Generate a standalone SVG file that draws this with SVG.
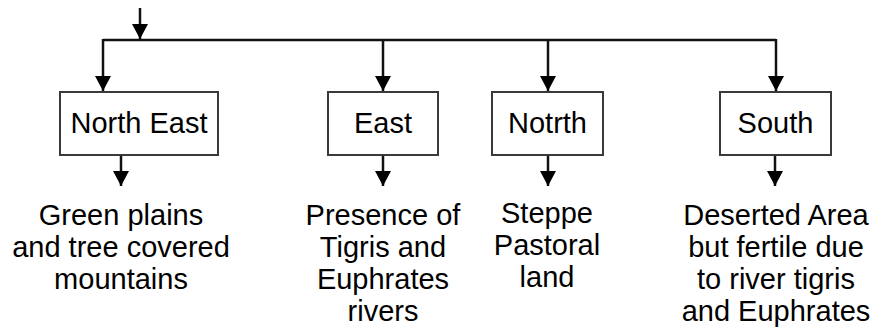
<svg xmlns="http://www.w3.org/2000/svg" width="875" height="330" viewBox="0 0 875 330">
<defs>
<marker id="ah" markerUnits="userSpaceOnUse" markerWidth="18" markerHeight="18" viewBox="0 0 18 18" refX="15" refY="9" orient="auto">
<path d="M0,1 L15,9 L0,17 Z" fill="#000"/>
</marker>
<style>
.c{fill:none;stroke:#111;stroke-width:2.5}
.b{fill:#fff;stroke:#3a3a3a;stroke-width:2}
.t{font-family:"Liberation Sans",Arial,sans-serif;font-size:29px;fill:#000;text-anchor:middle}
</style>
</defs>
<g id="connectors">
<line class="c" x1="140" y1="8" x2="140" y2="39" marker-end="url(#ah)"/>
<polyline class="c" points="103,40 776,40"/>
<line class="c" x1="103" y1="39" x2="103" y2="91" marker-end="url(#ah)"/>
<line class="c" x1="383" y1="40" x2="383" y2="91" marker-end="url(#ah)"/>
<line class="c" x1="548" y1="40" x2="548" y2="91" marker-end="url(#ah)"/>
<line class="c" x1="776" y1="39" x2="776" y2="91" marker-end="url(#ah)"/>
<line class="c" x1="121" y1="155" x2="121" y2="186" marker-end="url(#ah)"/>
<line class="c" x1="383" y1="155" x2="383" y2="186" marker-end="url(#ah)"/>
<line class="c" x1="548" y1="155" x2="548" y2="186" marker-end="url(#ah)"/>
<line class="c" x1="775" y1="155" x2="775" y2="186" marker-end="url(#ah)"/>
</g>
<g id="north-east">
<rect class="b" x="60" y="92" width="158" height="63"/>
<text class="t" x="139" y="133">North East</text>
</g>
<g id="east">
<rect class="b" x="328" y="92" width="110" height="63"/>
<text class="t" x="383" y="133">East</text>
</g>
<g id="notrth">
<rect class="b" x="492" y="92" width="111" height="63"/>
<text class="t" x="547.5" y="133">Notrth</text>
</g>
<g id="south">
<rect class="b" x="720" y="92" width="111" height="63"/>
<text class="t" x="775.5" y="133">South</text>
</g>
<g id="ne-desc">
<text class="t" x="121" y="225">Green plains</text>
<text class="t" x="121" y="257">and tree covered</text>
<text class="t" x="121" y="289">mountains</text>
</g>
<g id="east-desc">
<text class="t" x="383" y="225">Presence of</text>
<text class="t" x="383" y="257">Tigris and</text>
<text class="t" x="383" y="289">Euphrates</text>
<text class="t" x="383" y="321">rivers</text>
</g>
<g id="notrth-desc">
<text class="t" x="547" y="223">Steppe</text>
<text class="t" x="547" y="255">Pastoral</text>
<text class="t" x="547" y="287">land</text>
</g>
<g id="south-desc">
<text class="t" x="776" y="225">Deserted Area</text>
<text class="t" x="776" y="257">but fertile due</text>
<text class="t" x="776" y="289">to river tigris</text>
<text class="t" x="776" y="321">and Euphrates</text>
</g>
</svg>
